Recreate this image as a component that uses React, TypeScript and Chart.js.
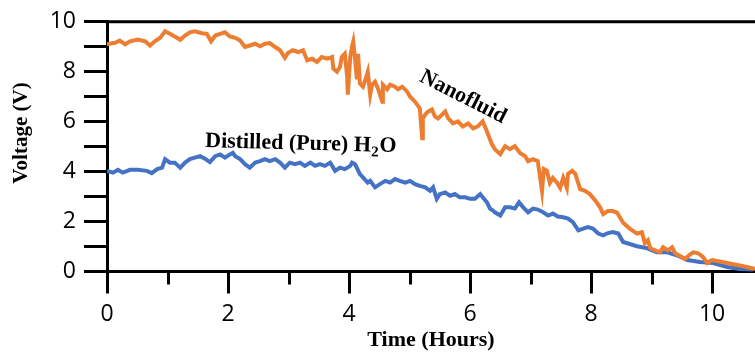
import React, { useEffect, useRef } from "react";
import { Chart, registerables } from "chart.js";

Chart.register(...registerables);

// Nanofluid series (time in hours, voltage in V)
const nanoTime = [
  0.0, 0.1, 0.13, 0.21, 0.3, 0.38, 0.51, 0.63, 0.71, 0.79, 0.88, 0.96, 1.04, 1.12, 1.21, 1.29, 1.37, 1.45,
  1.57, 1.65, 1.72, 1.79, 1.87, 1.95, 2.03, 2.08, 2.12, 2.2, 2.28, 2.36, 2.45, 2.53, 2.61, 2.69, 2.78, 2.86,
  2.94, 2.99, 3.07, 3.16, 3.24, 3.31, 3.39, 3.47, 3.55, 3.64, 3.72, 3.74, 3.8, 3.85, 3.88, 3.93, 3.97, 3.98,
  4.02, 4.05, 4.07, 4.1, 4.13, 4.15, 4.18, 4.23, 4.26, 4.31, 4.35, 4.38, 4.43, 4.48, 4.55, 4.56, 4.63, 4.68,
  4.76, 4.81, 4.88, 4.96, 5.01, 5.09, 5.17, 5.21, 5.22, 5.26, 5.31, 5.37, 5.42, 5.47, 5.54, 5.59, 5.64, 5.72,
  5.8, 5.88, 5.97, 6.05, 6.13, 6.21, 6.28, 6.36, 6.41, 6.5, 6.58, 6.66, 6.74, 6.83, 6.91, 6.96, 7.04, 7.12,
  7.19, 7.22, 7.27, 7.32, 7.37, 7.44, 7.49, 7.54, 7.6, 7.62, 7.69, 7.74, 7.82, 7.9, 7.98, 8.07, 8.15, 8.2,
  8.28, 8.36, 8.43, 8.53, 8.64, 8.76, 8.84, 8.89, 8.94, 8.98, 9.06, 9.14, 9.19, 9.27, 9.34, 9.39, 9.5, 9.55,
  9.64, 9.69, 9.77, 9.85, 9.92, 10.0, 10.17, 10.33, 10.5, 10.68, 10.71,
];
const nanoVolt = [
  9.1, 9.15, 9.15, 9.25, 9.1, 9.22, 9.29, 9.22, 9.05, 9.22, 9.36, 9.62, 9.52, 9.41, 9.28, 9.45, 9.58, 9.62,
  9.54, 9.52, 9.22, 9.45, 9.52, 9.58, 9.41, 9.38, 9.36, 9.25, 8.99, 9.05, 9.12, 9.02, 9.12, 9.15, 8.99, 8.86,
  8.56, 8.75, 8.86, 8.79, 8.86, 8.46, 8.52, 8.39, 8.59, 8.52, 8.59, 8.13, 8.0, 8.19, 8.59, 8.72, 7.8, 7.08,
  8.59, 9.0, 9.2, 8.5, 7.7, 8.72, 7.53, 7.4, 7.6, 8.0, 7.08, 7.48, 7.6, 7.32, 6.8, 7.48, 7.3, 7.48,
  7.4, 7.3, 7.4, 7.2, 7.0, 6.8, 6.53, 5.34, 6.13, 6.29, 6.41, 6.49, 6.21, 6.13, 6.29, 6.41, 6.13, 5.93,
  6.01, 5.81, 5.93, 5.73, 5.81, 6.01, 5.61, 5.1, 4.9, 4.7, 5.02, 4.9, 5.02, 4.74, 4.62, 4.42, 4.5, 4.42,
  3.23, 4.1, 4.03, 3.55, 3.75, 3.55, 3.35, 3.75, 3.35, 3.91, 4.03, 3.91, 3.3, 3.23, 3.1, 2.84, 2.57, 2.3,
  2.42, 2.42, 2.36, 1.95, 1.72, 1.52, 1.57, 1.13, 1.25, 0.93, 0.85, 0.77, 0.97, 0.85, 0.97, 0.73, 0.58, 0.5,
  0.69, 0.77, 0.73, 0.58, 0.34, 0.46, 0.38, 0.3, 0.22, 0.12, 0.1,
];

// Distilled water series
const waterTime = [
  0.0, 0.1, 0.18, 0.26, 0.38, 0.51, 0.66, 0.74, 0.83, 0.91, 0.96, 1.04, 1.12, 1.21, 1.29, 1.37, 1.45, 1.54,
  1.62, 1.7, 1.79, 1.87, 1.95, 2.03, 2.08, 2.12, 2.2, 2.28, 2.36, 2.45, 2.53, 2.61, 2.69, 2.78, 2.86, 2.94,
  3.02, 3.11, 3.19, 3.27, 3.36, 3.44, 3.52, 3.6, 3.69, 3.77, 3.85, 3.93, 4.02, 4.05, 4.1, 4.18, 4.31, 4.35,
  4.43, 4.51, 4.6, 4.68, 4.76, 4.84, 4.93, 5.01, 5.09, 5.17, 5.26, 5.34, 5.39, 5.45, 5.5, 5.59, 5.67, 5.75,
  5.83, 5.92, 6.0, 6.08, 6.17, 6.21, 6.28, 6.33, 6.38, 6.41, 6.5, 6.58, 6.66, 6.74, 6.81, 6.88, 6.96, 7.04,
  7.12, 7.21, 7.29, 7.37, 7.45, 7.54, 7.62, 7.7, 7.79, 7.87, 7.95, 8.03, 8.12, 8.2, 8.28, 8.36, 8.45, 8.53,
  8.6, 8.76, 8.93, 9.09, 9.26, 9.42, 9.59, 9.8, 10.02, 10.25, 10.46, 10.68,
];
const waterVolt = [
  4.03, 3.96, 4.07, 3.96, 4.07, 4.07, 4.03, 3.94, 4.1, 4.16, 4.5, 4.36, 4.36, 4.16, 4.36, 4.5, 4.56, 4.62,
  4.52, 4.38, 4.62, 4.69, 4.56, 4.69, 4.75, 4.62, 4.5, 4.3, 4.16, 4.36, 4.42, 4.5, 4.42, 4.5, 4.36, 4.16,
  4.36, 4.3, 4.36, 4.23, 4.36, 4.23, 4.3, 4.23, 4.36, 4.03, 4.16, 4.1, 4.23, 4.36, 4.3, 3.9, 3.56, 3.63,
  3.37, 3.5, 3.63, 3.56, 3.7, 3.63, 3.56, 3.63, 3.5, 3.43, 3.37, 3.23, 3.37, 2.91, 3.1, 3.17, 3.03, 3.1,
  2.97, 2.97, 2.91, 2.91, 3.1, 2.97, 2.77, 2.52, 2.44, 2.37, 2.24, 2.57, 2.57, 2.52, 2.77, 2.57, 2.37, 2.52,
  2.48, 2.37, 2.24, 2.32, 2.2, 2.17, 2.12, 1.98, 1.65, 1.72, 1.78, 1.72, 1.52, 1.45, 1.54, 1.58, 1.52, 1.18,
  1.13, 1.01, 0.93, 0.77, 0.77, 0.65, 0.46, 0.38, 0.34, 0.18, 0.1, 0.06,
];

const xMin = 0;
const xMax = 10.71;
const yMin = 0;
const yMax = 10;
const xTickValues = [0, 1, 2, 3, 4, 5, 6, 7, 8, 9, 10];

const xTitle = "Time (Hours)";
const yTitle = "Voltage (V)";
const nanoLabel = "Nanofluid";
const waterLabelMain = "Distilled (Pure) H";
const waterLabelSub = "2";
const waterLabelEnd = "O";

const ORANGE = "#ED7D31";
const BLUE = "#4472C4";
const SERIF = "'Liberation Serif', 'Times New Roman', serif";
const SANS = "'Open Sans', 'Liberation Sans', sans-serif";

const toPoints = (xs: number[], ys: number[]) => xs.map((x, i) => ({ x, y: ys[i] }));

const decorPlugin = {
  id: "decor",
  afterDraw(chart: any) {
    const { ctx, chartArea, scales } = chart;
    const xs = scales.x;
    ctx.save();
    // top frame line
    ctx.strokeStyle = "#000";
    ctx.lineWidth = 3;
    ctx.beginPath();
    ctx.moveTo(chartArea.left - 1.5, chartArea.top);
    ctx.lineTo(chartArea.right, chartArea.top);
    ctx.stroke();
    // x ticks: long at even, short at odd
    for (const v of xTickValues) {
      const px = Math.round(xs.getPixelForValue(v)) + 0.5;
      const len = v % 2 === 0 ? 22 : 13;
      ctx.beginPath();
      ctx.moveTo(px, chartArea.bottom);
      ctx.lineTo(px, chartArea.bottom + len);
      ctx.stroke();
    }
    // axis titles
    ctx.fillStyle = "#000";
    ctx.textAlign = "center";
    ctx.textBaseline = "middle";
    ctx.font = `bold 22px ${SERIF}`;
    ctx.fillText(xTitle, (chartArea.left + chartArea.right) / 2, 340);
    ctx.save();
    ctx.translate(22, 133);
    ctx.rotate(-Math.PI / 2);
    ctx.font = `bold 21px ${SERIF}`;
    ctx.fillText(yTitle, 0, 0);
    ctx.restore();

    // annotation: Nanofluid
    ctx.save();
    ctx.translate(463, 97);
    ctx.rotate((27 * Math.PI) / 180);
    ctx.font = `bold 22px ${SERIF}`;
    ctx.fillText(nanoLabel, 0, 0);
    ctx.restore();

    // annotation: Distilled (Pure) H2O
    ctx.save();
    ctx.translate(205, 147);
    ctx.rotate((1.5 * Math.PI) / 180);
    ctx.textAlign = "left";
    ctx.textBaseline = "alphabetic";
    ctx.font = `bold 22px ${SERIF}`;
    ctx.fillText(waterLabelMain, 0, 0);
    let w = ctx.measureText(waterLabelMain).width;
    ctx.font = `bold 15px ${SERIF}`;
    ctx.fillText(waterLabelSub, w + 0.5, 5);
    w += ctx.measureText(waterLabelSub).width + 1;
    ctx.font = `bold 22px ${SERIF}`;
    ctx.fillText(waterLabelEnd, w, 0);
    ctx.restore();

    ctx.restore();
  },
};

export default function App() {
  const ref = useRef<HTMLCanvasElement | null>(null);
  useEffect(() => {
    if (!ref.current) return;
    const chart = new Chart(ref.current, {
      type: "line",
      data: {
        datasets: [
          {
            label: "Nanofluid",
            data: toPoints(nanoTime, nanoVolt),
            borderColor: ORANGE,
            borderWidth: 4,
            pointRadius: 0,
            tension: 0,
            fill: false,
          },
          {
            label: "Distilled (Pure) H2O",
            data: toPoints(waterTime, waterVolt),
            borderColor: BLUE,
            borderWidth: 4,
            pointRadius: 0,
            tension: 0,
            fill: false,
          },
        ],
      },
      options: {
        responsive: false,
        animation: false,
        layout: { padding: { top: 19.5, right: 0, left: 0, bottom: 0 } },
        plugins: { legend: { display: false }, tooltip: { enabled: false } },
        scales: {
          x: {
            type: "linear",
            min: xMin,
            max: xMax,
            afterFit: (s: any) => {
              s.height = 82.5;
            },
            border: { display: true, color: "#000", width: 3 },
            grid: { display: false, drawTicks: true, tickLength: 22 },
            ticks: {
              stepSize: 1,
              includeBounds: false,
              autoSkip: false,
              maxRotation: 0,
              padding: 7,
              color: "#000",
              font: { family: SANS, size: 23 },
              callback: (v: any) => (Number(v) % 2 === 0 ? String(v) : ""),
            },
          },
          y: {
            min: yMin,
            max: yMax,
            afterFit: (s: any) => {
              s.width = 107;
            },
            border: { display: true, color: "#000", width: 3 },
            grid: {
              drawOnChartArea: false,
              drawTicks: true,
              tickLength: 23,
              tickWidth: 3,
              tickColor: "#000",
            },
            ticks: {
              stepSize: 1,
              autoSkip: false,
              padding: 8,
              color: "#000",
              font: { family: SANS, size: 23 },
              callback: (v: any) => (Number(v) % 2 === 0 ? String(v) : ""),
            },
          },
        },
      },
      plugins: [decorPlugin],
    });
    return () => chart.destroy();
  }, []);
  return (
    <div style={{ position: "fixed", left: 0, top: 0, width: 755, height: 354, background: "#fff" }}>
      <canvas ref={ref} width={755} height={354} style={{ width: 755, height: 354, display: "block" }} />
    </div>
  );
}
